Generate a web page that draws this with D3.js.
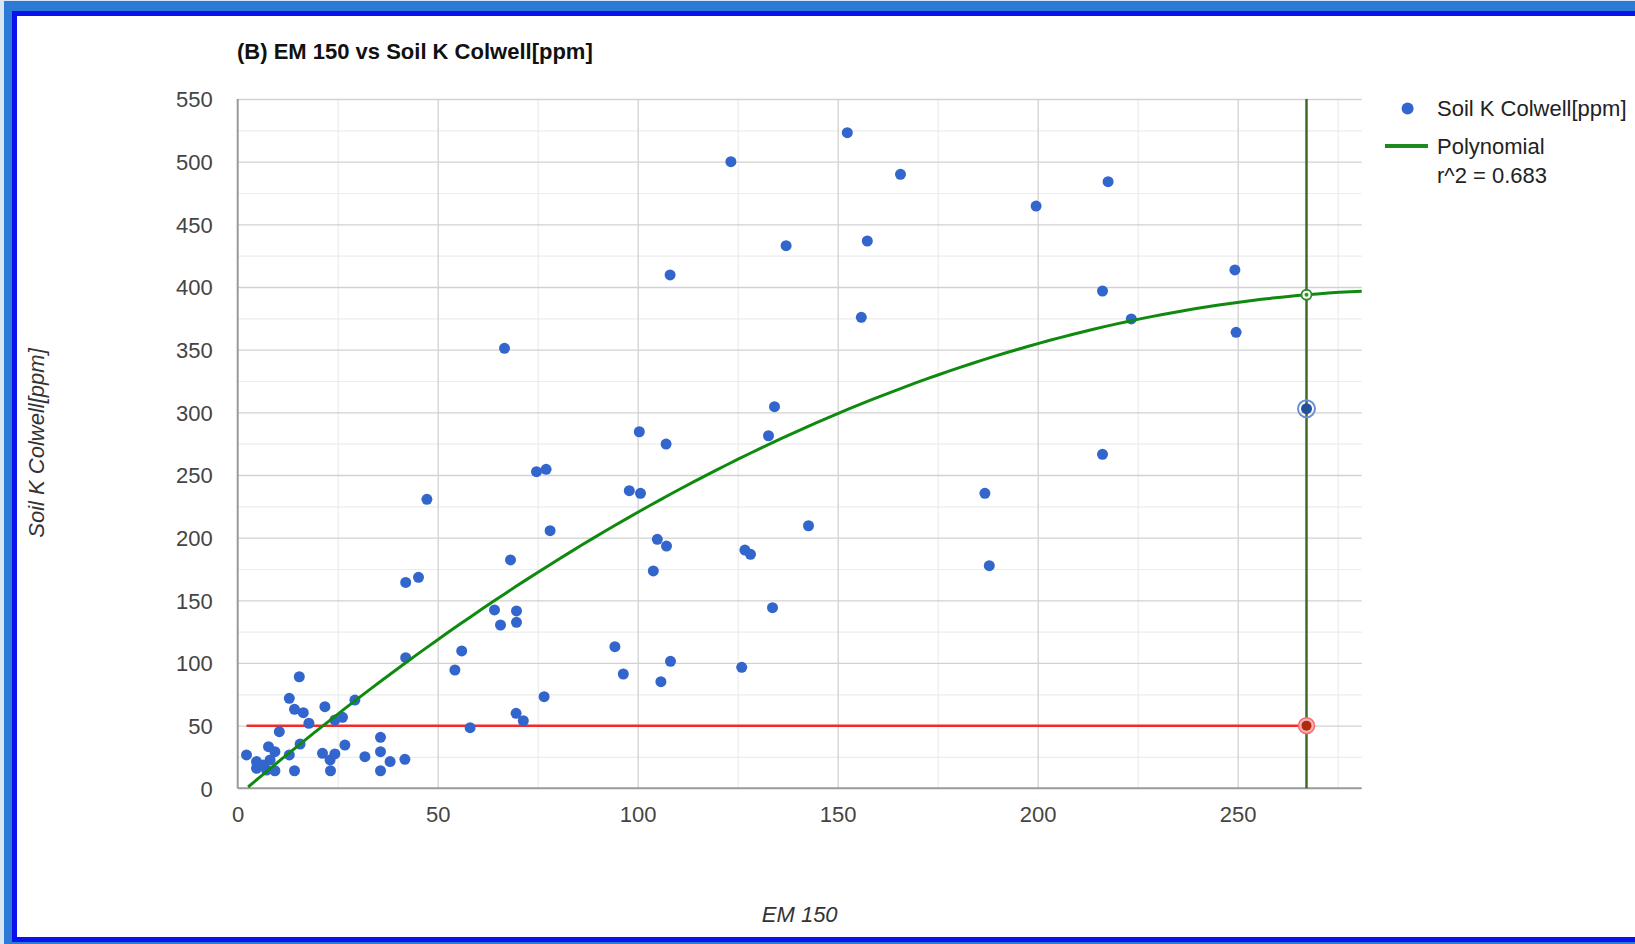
<!DOCTYPE html>
<html>
<head>
<meta charset="utf-8">
<script src="https://cdn.jsdelivr.net/npm/d3@7"></script>
<style>
  html, body { margin: 0; padding: 0; background: #fff; }
  svg { display: block; }
  text { font-family: "Liberation Sans", Arial, sans-serif; }
</style>
</head>
<body>
<svg id="chart" width="1635" height="944"></svg>
<script>
// ---------- data ----------
const emValues = [2.2, 4.7, 4.7, 6.4, 7.7, 9.3, 7.2, 9.3, 8.1, 10.4, 12.9, 14.2, 12.9, 14.2, 15.4, 16.4, 17.8, 15.6,
  21.8, 21.2, 23.1, 23.2, 24.3, 24.3, 26.2, 26.8, 29.3, 31.8, 35.7, 35.7, 35.7, 38.1, 41.8, 42, 42, 45.2, 47.3,
  54.3, 56, 58.1, 64.2, 65.7, 69.7, 69.7, 68.2, 69.6, 71.4, 76.6, 74.7, 77.1, 78.1, 66.7, 97.9, 100.7, 104.9,
  107.2, 103.9, 94.3, 96.4, 108.2, 105.8, 100.4, 107.1, 134.2, 132.7, 142.7, 126.8, 128.2, 133.7, 126, 186.8,
  187.9, 216.2, 152.4, 123.3, 165.7, 217.6, 199.6, 137.1, 157.4, 108.1, 249.3, 216.2, 223.4, 249.6, 155.9];
const soilK = [26.6, 21.3, 16, 18.6, 33.2, 29.2, 14.6, 14, 22.6, 45.2, 26.6, 14, 71.8, 63, 89, 60.3, 51.9, 35.3,
  65.1, 27.9, 22.6, 14, 27.4, 54.5, 56.6, 34.5, 70.4, 25.2, 40.7, 29.2, 14, 21.3, 23.1, 104.2, 164.3, 168.3, 230.6,
  94.4, 109.6, 48.4, 142.3, 130.3, 141.5, 132.4, 182.2, 59.8, 53.9, 73.1, 252.6, 254.5, 205.6, 351.1, 237.5, 235.4, 198.7,
  193.3, 173.4, 113, 91.2, 101.3, 85.1, 284.5, 274.7, 304.5, 281.3, 209.5, 190.1, 186.7, 144.1, 96.5, 235.4,
  177.6, 266.5, 523.1, 500, 489.9, 484, 464.6, 433, 436.7, 409.6, 413.6, 396.8, 374.5, 363.8, 375.8];

// selected (highlighted) point on the vertical marker
const selectedPoint = [267.2, 302.9];
// polynomial trendline coefficients (degree 2): y = c0 + c1 x + c2 x^2
const polyCoef = [-6.0, 2.72, -0.00458];
const polyRange = [2.6, 281];
// threshold line (red) and marker line (vertical)
const thresholdY = 50;
const thresholdX = [2.2, 267.2];
const markerX = 267.2;

const xMajorTicks = [0, 50, 100, 150, 200, 250];
const xMinorTicks = [25, 75, 125, 175, 225, 275];
const yMajorTicks = [0, 50, 100, 150, 200, 250, 300, 350, 400, 450, 500, 550];
const yMinorTicks = [25, 75, 125, 175, 225, 275, 325, 375, 425, 475, 525];
const xDomain = [0, 281];
const yDomain = [0, 550];

const titleText = "(B) EM 150 vs Soil K Colwell[ppm]";
const xTitle = "EM 150";
const yTitle = "Soil K Colwell[ppm]";
const legendItems = ["Soil K Colwell[ppm]", "Polynomial", "r^2 = 0.683"];

// ---------- layout ----------
const svg = d3.select("#chart");
const L = 237.7, R = 1361.7, T = 99, B = 788.3;

// frame
svg.append("rect").attr("x", 0).attr("y", 0).attr("width", 1635).attr("height", 944).attr("fill", "#d6e4f4");
svg.append("rect").attr("x", 4).attr("y", 1).attr("width", 1640).attr("height", 943).attr("fill", "#2b7bd6");
svg.append("rect").attr("x", 12).attr("y", 11).attr("width", 1640).attr("height", 931).attr("fill", "#0a12ee");
svg.append("rect").attr("x", 17).attr("y", 16).attr("width", 1640).attr("height", 921).attr("fill", "#ffffff");

const x = d3.scaleLinear().domain(xDomain).range([L, R]);
const y = d3.scaleLinear().domain(yDomain).range([B, T]);

// gridlines
const grid = svg.append("g");
grid.append("g").attr("transform", `translate(0,${B})`)
  .call(d3.axisBottom(x).tickValues(xMinorTicks).tickSize(-(B - T)).tickFormat(""))
  .call(g => g.select(".domain").remove())
  .call(g => g.selectAll("line").attr("stroke", "#ececec").attr("stroke-width", 1.2));
grid.append("g").attr("transform", `translate(${L},0)`)
  .call(d3.axisLeft(y).tickValues(yMinorTicks).tickSize(-(R - L)).tickFormat(""))
  .call(g => g.select(".domain").remove())
  .call(g => g.selectAll("line").attr("stroke", "#ececec").attr("stroke-width", 1.2));
grid.append("g").attr("transform", `translate(0,${B})`)
  .call(d3.axisBottom(x).tickValues(xMajorTicks.filter(v => v > 0)).tickSize(-(B - T)).tickFormat(""))
  .call(g => g.select(".domain").remove())
  .call(g => g.selectAll("line").attr("stroke", "#d2d2d2").attr("stroke-width", 1.3));
grid.append("g").attr("transform", `translate(${L},0)`)
  .call(d3.axisLeft(y).tickValues(yMajorTicks.filter(v => v > 0)).tickSize(-(R - L)).tickFormat(""))
  .call(g => g.select(".domain").remove())
  .call(g => g.selectAll("line").attr("stroke", "#d2d2d2").attr("stroke-width", 1.3));

// axes with labels
const xAxisG = svg.append("g").attr("transform", `translate(0,${B})`)
  .call(d3.axisBottom(x).tickValues(xMajorTicks).tickSize(0).tickPadding(0));
xAxisG.select(".domain").remove();
xAxisG.selectAll("text").attr("y", 34).attr("dy", 0)
  .attr("font-size", 22).attr("fill", "#444").attr("font-family", "Liberation Sans, Arial, sans-serif");

const yAxisG = svg.append("g").attr("transform", `translate(${L},0)`)
  .call(d3.axisLeft(y).tickValues(yMajorTicks).tickSize(0).tickPadding(25));
yAxisG.select(".domain").remove();
yAxisG.selectAll("text").attr("dy", "0.36em")
  .attr("font-size", 22).attr("fill", "#444").attr("font-family", "Liberation Sans, Arial, sans-serif");

// baselines
svg.append("line").attr("x1", L).attr("x2", L).attr("y1", T).attr("y2", B)
  .attr("stroke", "#9a9a9a").attr("stroke-width", 2);
svg.append("line").attr("x1", L).attr("x2", R).attr("y1", B).attr("y2", B)
  .attr("stroke", "#9a9a9a").attr("stroke-width", 2);

// red threshold line
svg.append("line")
  .attr("x1", x(thresholdX[0])).attr("x2", x(thresholdX[1]))
  .attr("y1", y(thresholdY)).attr("y2", y(thresholdY))
  .attr("stroke", "#f22a2a").attr("stroke-width", 2.5);

// vertical marker line
svg.append("line")
  .attr("x1", x(markerX)).attr("x2", x(markerX)).attr("y1", T).attr("y2", B)
  .attr("stroke", "#3f6c25").attr("stroke-width", 2.5);

// points
svg.append("g").selectAll("circle").data(d3.range(emValues.length)).join("circle")
  .attr("cx", i => x(emValues[i])).attr("cy", i => y(soilK[i]))
  .attr("r", 5.5).attr("fill", "#3366cc");

// polynomial trendline
const poly = v => polyCoef[0] + polyCoef[1] * v + polyCoef[2] * v * v;
const curveXs = d3.range(0, 101).map(k => polyRange[0] + (polyRange[1] - polyRange[0]) * k / 100);
svg.append("path")
  .datum(curveXs)
  .attr("d", d3.line().x(v => x(v)).y(v => y(Math.max(0, poly(v)))))
  .attr("fill", "none").attr("stroke", "#0f8a0f").attr("stroke-width", 3);

// markers on the vertical line
const mx = x(markerX);
svg.append("circle").attr("cx", mx).attr("cy", y(selectedPoint[1])).attr("r", 8.5)
  .attr("fill", "none").attr("stroke", "#6b8fd6").attr("stroke-width", 2);
svg.append("circle").attr("cx", mx).attr("cy", y(selectedPoint[1])).attr("r", 5.5).attr("fill", "#23529a");
svg.append("circle").attr("cx", mx).attr("cy", y(thresholdY)).attr("r", 8)
  .attr("fill", "#f7b3b3").attr("stroke", "#f06a6a").attr("stroke-width", 1.5);
svg.append("circle").attr("cx", mx).attr("cy", y(thresholdY)).attr("r", 5).attr("fill", "#b02a10");
svg.append("circle").attr("cx", mx).attr("cy", y(poly(markerX))).attr("r", 5)
  .attr("fill", "#ffffff").attr("stroke", "#2a8a2a").attr("stroke-width", 1.8);
svg.append("circle").attr("cx", mx).attr("cy", y(poly(markerX))).attr("r", 2).attr("fill", "#2a9a2a");

// title
svg.append("text").attr("x", 237).attr("y", 59).text(titleText)
  .attr("font-size", 22).attr("font-weight", "bold").attr("fill", "#111");

// axis titles
svg.append("text").attr("x", (L + R) / 2).attr("y", 922).attr("text-anchor", "middle")
  .attr("font-size", 22).attr("font-style", "italic").attr("fill", "#333").text(xTitle);
svg.append("text").attr("transform", `translate(44,443) rotate(-90)`).attr("text-anchor", "middle")
  .attr("font-size", 22).attr("font-style", "italic").attr("fill", "#333").text(yTitle);

// legend
svg.append("circle").attr("cx", 1407.6).attr("cy", 108.4).attr("r", 6).attr("fill", "#3366cc");
svg.append("text").attr("x", 1437).attr("y", 116).attr("font-size", 22).attr("fill", "#222").text(legendItems[0]);
svg.append("line").attr("x1", 1385).attr("x2", 1428).attr("y1", 146).attr("y2", 146)
  .attr("stroke", "#1e8a1e").attr("stroke-width", 4);
svg.append("text").attr("x", 1437).attr("y", 154).attr("font-size", 22).attr("fill", "#222").text(legendItems[1]);
svg.append("text").attr("x", 1437).attr("y", 183).attr("font-size", 22).attr("fill", "#222").text(legendItems[2]);
</script>
</body>
</html>
